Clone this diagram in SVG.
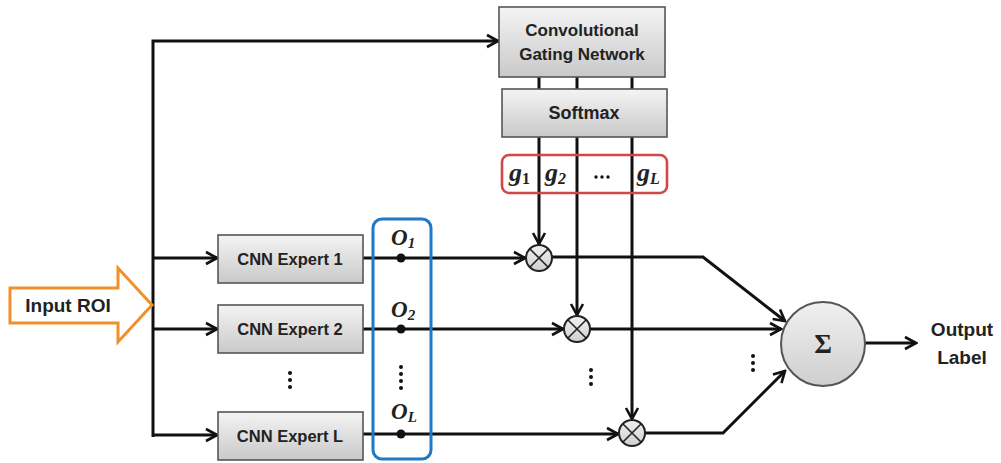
<svg xmlns="http://www.w3.org/2000/svg" width="1001" height="463" viewBox="0 0 1001 463">
<style>
.box{fill:url(#gb);stroke:#555;stroke-width:1.6}
.lbl{font-family:"Liberation Sans",Arial,sans-serif;font-weight:bold;fill:#222;text-anchor:middle}
.ln{stroke:#111;stroke-width:3;fill:none}
.mth{font-family:"Liberation Serif","Times New Roman",serif;font-weight:bold;font-style:italic;fill:#222}
.dot{fill:#111}
.mul{fill:url(#gc);stroke:#222;stroke-width:2}
.x{stroke:#222;stroke-width:1.6}
</style>
<defs>
<linearGradient id="gb" x1="0" y1="0" x2="0" y2="1"><stop offset="0" stop-color="#f4f4f4"/><stop offset="1" stop-color="#c9c9c9"/></linearGradient>
<linearGradient id="gc" x1="0" y1="0" x2="0" y2="1"><stop offset="0" stop-color="#f0f0f0"/><stop offset="1" stop-color="#cfcfcf"/></linearGradient>
<marker id="ar" markerUnits="userSpaceOnUse" markerWidth="16" markerHeight="16" viewBox="0 0 16 16" refX="14" refY="8" orient="auto"><path d="M3,2 L14,8 L3,14" fill="none" stroke="#111" stroke-width="2.6"/></marker>
</defs>
<rect width="1001" height="463" fill="#fff"/>
<g id="connectors">
<path class="ln" d="M153,437 V41 H498" marker-end="url(#ar)"/>
<path class="ln" d="M153,258 H217" marker-end="url(#ar)"/>
<path class="ln" d="M153,329 H217" marker-end="url(#ar)"/>
<path class="ln" d="M153,435 H217" marker-end="url(#ar)"/>
<line class="ln" x1="539" y1="77" x2="539" y2="89"/>
<line class="ln" x1="577" y1="77" x2="577" y2="89"/>
<line class="ln" x1="632" y1="77" x2="632" y2="89"/>
<path class="ln" d="M539,137 V244" marker-end="url(#ar)"/>
<path class="ln" d="M577,137 V315" marker-end="url(#ar)"/>
<path class="ln" d="M632,137 V419" marker-end="url(#ar)"/>
<path class="ln" d="M363,258 H525" marker-end="url(#ar)"/>
<path class="ln" d="M363,329 H563" marker-end="url(#ar)"/>
<path class="ln" d="M363,434 H618" marker-end="url(#ar)"/>
<path class="ln" d="M552,257 H703 L785,321" marker-end="url(#ar)"/>
<path class="ln" d="M590,329 H781" marker-end="url(#ar)"/>
<path class="ln" d="M645,433 H723 L785,371" marker-end="url(#ar)"/>
<path class="ln" d="M865,343 H916" marker-end="url(#ar)"/>
</g>
<g id="input-roi">
<polygon points="10,288 118,288 118,268 152,305 118,342 118,323 10,323" fill="#fff" stroke="#f0902a" stroke-width="3"/>
<text class="lbl" x="68" y="312" font-size="19">Input ROI</text>
</g>
<g id="gating-network">
<rect class="box" x="499" y="7" width="166" height="70"/>
<text class="lbl" x="582" y="36" font-size="17">Convolutional</text>
<text class="lbl" x="582" y="60" font-size="17">Gating Network</text>
</g>
<g id="softmax">
<rect class="box" x="502" y="89" width="165" height="48"/>
<text class="lbl" x="584" y="119" font-size="18">Softmax</text>
</g>
<g id="gates">
<rect x="502" y="155" width="165" height="38" rx="7" fill="none" stroke="#d04848" stroke-width="2.6"/>
<text class="mth" x="509" y="181" font-size="26">g<tspan font-style="normal" font-size="16" dy="3">1</tspan></text>
<text class="mth" x="545" y="181" font-size="26">g<tspan font-size="16" dy="3">2</tspan></text>
<circle class="dot" cx="596" cy="177" r="1.7"/><circle class="dot" cx="602" cy="177" r="1.7"/><circle class="dot" cx="608" cy="177" r="1.7"/>
<text class="mth" x="637" y="181" font-size="26">g<tspan font-size="16" dy="3">L</tspan></text>
</g>
<g id="expert-1">
<rect class="box" x="218" y="235" width="145" height="48"/>
<text class="lbl" x="290" y="265" font-size="16.5">CNN Expert 1</text>
</g>
<g id="expert-2">
<rect class="box" x="218" y="305" width="145" height="48"/>
<text class="lbl" x="290" y="335" font-size="16.5">CNN Expert 2</text>
</g>
<g id="expert-dots">
<circle class="dot" cx="290" cy="373" r="2"/><circle class="dot" cx="290" cy="380" r="2"/><circle class="dot" cx="290" cy="387" r="2"/>
</g>
<g id="expert-L">
<rect class="box" x="218" y="412" width="145" height="48"/>
<text class="lbl" x="290" y="442" font-size="16.5">CNN Expert L</text>
</g>
<g id="outputs">
<rect x="373" y="219" width="58" height="240" rx="9" fill="none" stroke="#1f78c8" stroke-width="3"/>
<text class="mth" x="391" y="245" font-size="23">O<tspan font-size="15" dy="3">1</tspan></text>
<circle class="dot" cx="401" cy="258" r="4.5"/>
<text class="mth" x="391" y="317" font-size="23">O<tspan font-size="15" dy="3">2</tspan></text>
<circle class="dot" cx="401" cy="329" r="4.5"/>
<circle class="dot" cx="401" cy="367" r="2"/><circle class="dot" cx="401" cy="374" r="2"/><circle class="dot" cx="401" cy="381" r="2"/><circle class="dot" cx="401" cy="388" r="2"/>
<text class="mth" x="391" y="419" font-size="23">O<tspan font-size="15" dy="3">L</tspan></text>
<circle class="dot" cx="401" cy="434" r="4.5"/>
</g>
<g id="mult-1">
<circle class="mul" cx="539" cy="258" r="13"/>
<path class="x" d="M530,249 L548,267 M548,249 L530,267"/>
</g>
<g id="mult-2">
<circle class="mul" cx="577" cy="329" r="13"/>
<path class="x" d="M568,320 L586,338 M586,320 L568,338"/>
</g>
<g id="mult-dots">
<circle class="dot" cx="591" cy="370" r="2"/><circle class="dot" cx="591" cy="377" r="2"/><circle class="dot" cx="591" cy="384" r="2"/>
</g>
<g id="mult-L">
<circle class="mul" cx="632" cy="433" r="13"/>
<path class="x" d="M623,424 L641,442 M641,424 L623,442"/>
</g>
<g id="sum-dots">
<circle class="dot" cx="753" cy="356" r="2"/><circle class="dot" cx="753" cy="363" r="2"/><circle class="dot" cx="753" cy="370" r="2"/>
</g>
<g id="sum">
<circle cx="823" cy="344" r="42" fill="url(#gc)" stroke="#555" stroke-width="2"/>
<text x="823" y="353" font-family="'Liberation Serif','Times New Roman',serif" font-weight="bold" font-size="27" fill="#222" text-anchor="middle">Σ</text>
</g>
<g id="output-label">
<text class="lbl" x="962" y="336" font-size="19">Output</text>
<text class="lbl" x="962" y="364" font-size="19">Label</text>
</g>
</svg>
